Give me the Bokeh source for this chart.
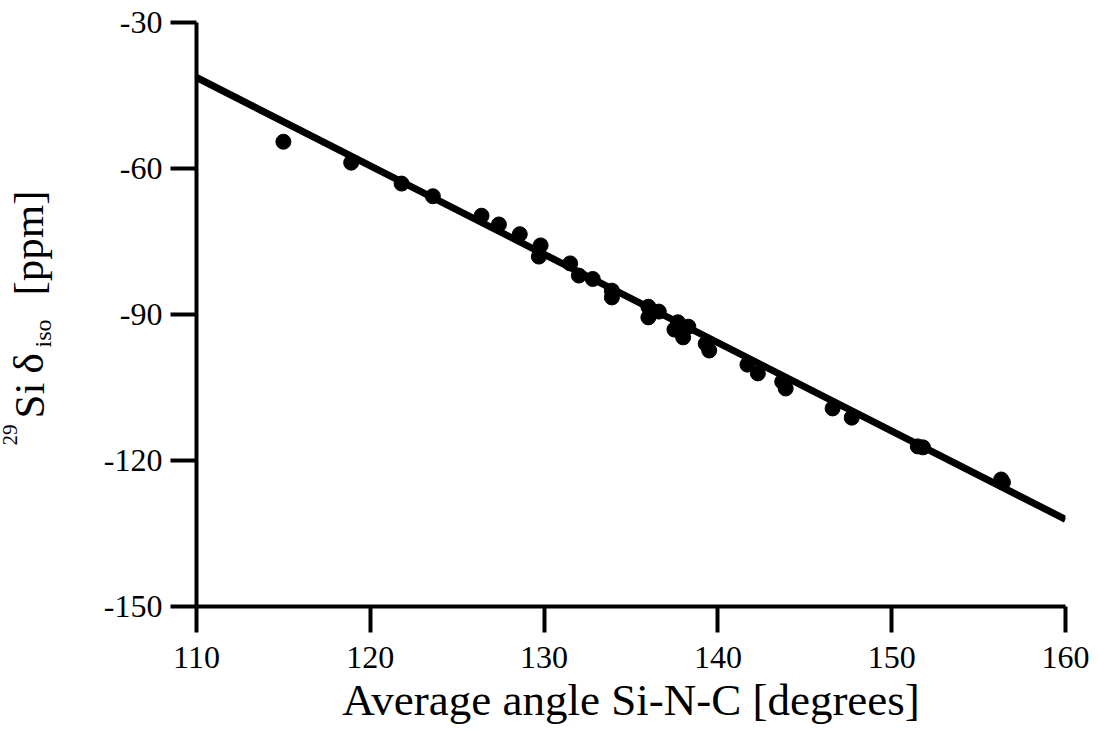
import math
from bokeh.plotting import figure
from bokeh.layouts import row
from bokeh.models import Range1d, FixedTicker, ColumnDataSource
from bokeh.core.properties import value
from bokeh.embed import file_html
from bokeh.resources import INLINE

# ---- data ----
angle_deg = [115.0, 118.9, 121.8, 123.6, 126.4, 127.4, 128.6, 129.8, 129.7, 131.5,
             132.0, 132.8, 133.9, 133.9, 136.0, 136.6, 136.0, 137.7, 137.5, 138.3,
             138.0, 139.3, 139.5, 141.7, 142.3, 143.7, 143.9, 146.6, 147.7, 151.5,
             151.8, 156.3, 156.4]
shift_ppm = [-54.5, -58.8, -63.1, -65.7, -69.7, -71.5, -73.5, -75.8, -78.1, -79.5,
             -82.0, -82.7, -85.1, -86.5, -88.4, -89.4, -90.6, -91.6, -93.1, -92.5,
             -94.7, -96.0, -97.4, -100.3, -102.1, -103.8, -105.2, -109.3, -111.2, -117.1,
             -117.3, -123.9, -124.5]
fit_x = [110, 160]
fit_y = [-41.3, -132.1]

xticks = [110, 120, 130, 140, 150, 160]
xtick_labels = ["110", "120", "130", "140", "150", "160"]
yticks = [-150, -120, -90, -60, -30]
ytick_labels = ["-150", "-120", "-90", "-60", "-30"]

x_title = "Average angle Si-N-C [degrees]"
y_title_text = ["29", "Si", "δ", "iso", "[ppm]"]
y_title_size = ["21px", "43px", "43px", "24px", "43px"]

FONT = "Liberation Serif"
W, H = 1097, 731
LABEL_W = 96
TOP, BOTTOM = 22, 125

# ---- main plot ----
p = figure(width=W - LABEL_W, height=H, output_backend="svg", toolbar_location=None,
           x_range=Range1d(110, 160), y_range=Range1d(-150, -30),
           min_border_left=196 - LABEL_W, min_border_right=32, min_border_top=TOP,
           min_border_bottom=BOTTOM)
p.outline_line_color = None
p.grid.visible = False
p.background_fill_color = "white"
p.border_fill_color = "white"

for ax in (p.xaxis[0], p.yaxis[0]):
    ax.axis_line_width = 4
    ax.axis_line_color = "black"
    ax.major_tick_line_width = 4
    ax.major_tick_line_color = "black"
    ax.major_tick_out = 26
    ax.major_tick_in = 0
    ax.minor_tick_line_color = None
    ax.major_label_text_font = FONT
    ax.major_label_text_font_size = "32px"
    ax.major_label_text_color = "black"
    ax.major_label_standoff = 8

p.xaxis[0].major_label_standoff = 14
p.xaxis[0].ticker = FixedTicker(ticks=xticks)
p.xaxis[0].major_label_overrides = dict(zip(xticks, xtick_labels))
p.yaxis[0].ticker = FixedTicker(ticks=yticks)
p.yaxis[0].major_label_overrides = dict(zip(yticks, ytick_labels))

p.xaxis[0].axis_label = x_title
p.xaxis[0].axis_label_text_font = FONT
p.xaxis[0].axis_label_text_font_size = "45px"
p.xaxis[0].axis_label_text_font_style = "normal"
p.xaxis[0].axis_label_text_color = "black"
p.xaxis[0].axis_label_standoff = 4

src = ColumnDataSource(dict(x=angle_deg, y=shift_ppm))
p.line(fit_x, fit_y, line_width=7, line_color="black", line_cap="butt")
p.scatter("x", "y", source=src, size=15, marker="circle", fill_color="black", line_color="black")

# ---- strip holding the composed, rotated y-axis title ----
lab = figure(width=LABEL_W, height=H, output_backend="svg", toolbar_location=None,
             x_range=Range1d(0, LABEL_W), y_range=Range1d(BOTTOM, H - TOP),
             x_axis_type=None, y_axis_type=None,
             min_border_left=0, min_border_right=0, min_border_top=TOP,
             min_border_bottom=BOTTOM)
lab.outline_line_color = None
lab.grid.visible = False
lab.background_fill_color = "white"
lab.border_fill_color = "white"

# baseline x and start (bottom) y of each piece
piece_base_x = [9, 29, 28, 42, 28]
piece_start_y = [445, 418, 373, 347, 295]
lab_src = ColumnDataSource(dict(x=piece_base_x, y=[H - v for v in piece_start_y],
                                text=y_title_text, size=y_title_size))
lab.text("x", "y", text="text", source=lab_src, angle=math.pi / 2,
         text_align="left", text_baseline="alphabetic",
         text_font=value(FONT), text_font_size="size", text_color="black")

layout = row(lab, p)
open("out.html", "w").write(file_html(layout, INLINE))
